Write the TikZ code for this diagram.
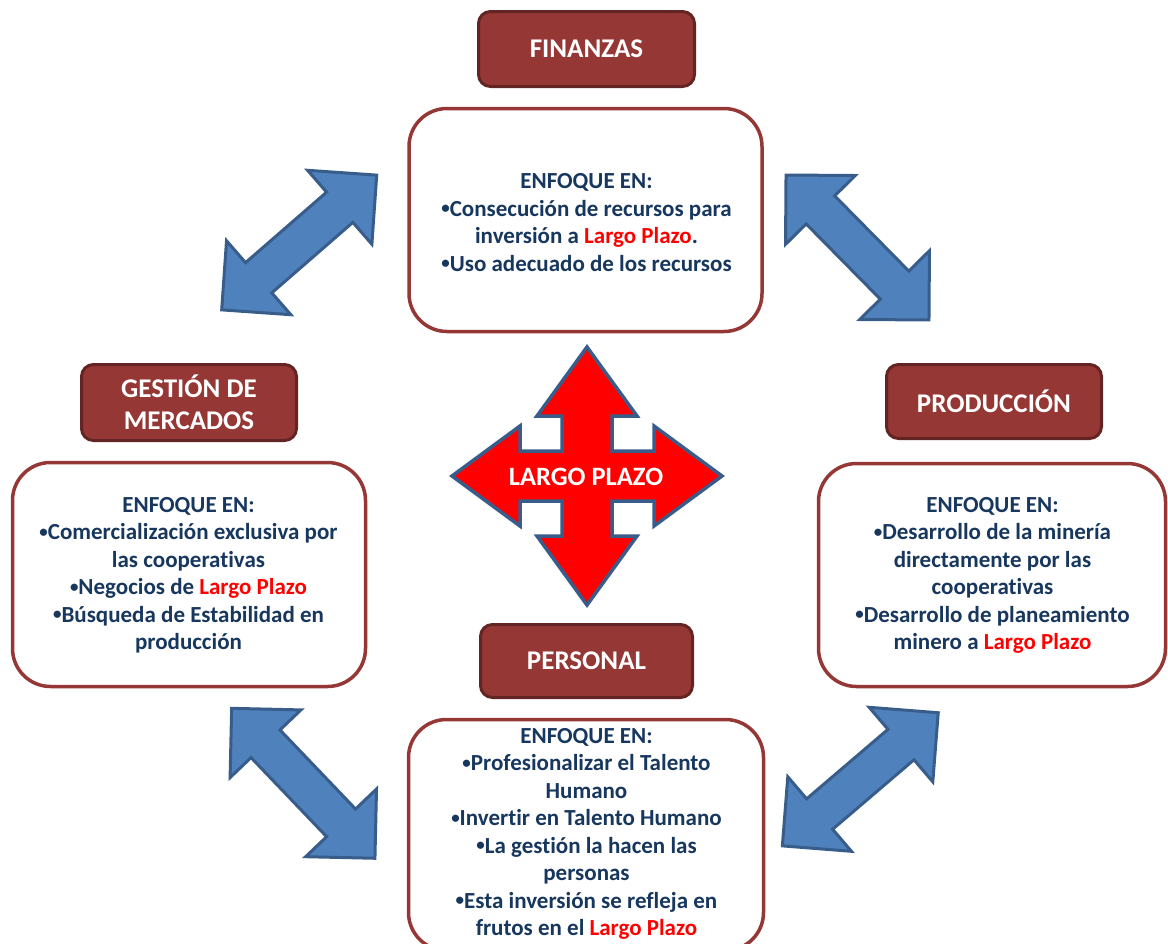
\documentclass[tikz,border=0pt]{standalone}
\usepackage{fontspec}
\setmainfont{Carlito}[Ligatures=NoCommon]
\definecolor{ttlfill}{HTML}{953735}
\definecolor{ttldraw}{HTML}{632523}
\definecolor{boxdraw}{HTML}{953735}
\definecolor{navy}{HTML}{17375E}
\definecolor{arrfill}{HTML}{4F81BD}
\definecolor{arrdraw}{HTML}{385D8A}
\definecolor{hot}{HTML}{FF0000}
\newcommand{\lp}[1]{\textcolor{hot}{#1}}
\newcommand{\bul}{\raisebox{2.5pt}{\fontsize{17}{17}\selectfont •}}
% two-headed block arrow: centre, rotation angle, half length
\newcommand{\twoheaded}[4]{%
  \begin{scope}[shift={(#1,#2)},rotate=#3]
    \draw[blockarrow] (#4,0) -- ({#4-49},-49) -- ({#4-49},-20) -- ({-#4+49},-20)
      -- ({-#4+49},-49) -- (-#4,0) -- ({-#4+49},49) -- ({-#4+49},20)
      -- ({#4-49},20) -- ({#4-49},49) -- cycle;
  \end{scope}}
\begin{document}
\begin{tikzpicture}[x=1pt,y=-1pt,
  ttl/.style={draw=ttldraw,fill=ttlfill,line width=3pt,rounded corners=12pt,
    text=white,align=center,inner sep=0pt,
    font=\bfseries\fontsize{27}{32}\selectfont},
  wbox/.style={draw=boxdraw,fill=white,line width=3.5pt,rounded corners=38pt,inner sep=0pt},
  txt/.style={text=navy,align=center,inner sep=0pt,
    font=\bfseries\fontsize{23}{27.5}\selectfont},
  blockarrow/.style={draw=arrdraw,fill=arrfill,line width=3pt,line join=miter},
  crossarrow/.style={draw=arrdraw,fill=hot,line width=3.5pt,line join=miter}]
\clip (0,0) rectangle (1168,943);

% title boxes
\node[ttl,minimum width=216,minimum height=75] (tfin) at (586.5,49) {FINANZAS};
\node[ttl,minimum width=215,minimum height=76] (tmer) at (189,402.5) {GESTIÓN DE\\MERCADOS};
\node[ttl,minimum width=215,minimum height=74] (tpro) at (994,401.5) {PRODUCCIÓN};
\node[ttl,minimum width=212,minimum height=73] (tper) at (586.5,661) {PERSONAL};

% content boxes
\node[wbox,minimum width=353,minimum height=223] (bfin) at (585.5,220) {};
\node[wbox,minimum width=353,minimum height=224] (bmer) at (189,574.5) {};
\node[wbox,minimum width=347,minimum height=223] (bpro) at (992,575) {};
\node[wbox,minimum width=355,minimum height=231] (bper) at (586,835) {};

\node[txt] (xfin) at (586.5,222.5) {ENFOQUE EN:\\
  \bul Consecución de recursos para\\
  inversión a \lp{Largo Plazo}.\\
  \bul Uso adecuado de los recursos};
\node[txt] (xmer) at (188.5,575.5) {ENFOQUE EN:\\
  \bul Comercialización exclusiva por\\
  las cooperativas\\
  \bul Negocios de \lp{Largo Plazo}\\
  \bul Búsqueda de Estabilidad en\\
  producción};
\node[txt] (xpro) at (992.5,575.5) {ENFOQUE EN:\\
  \bul Desarrollo de la minería\\
  directamente por las\\
  cooperativas\\
  \bul Desarrollo de planeamiento\\
  minero a \lp{Largo Plazo}};
\node[txt] (xper) at (586.5,834) {ENFOQUE EN:\\
  \bul Profesionalizar el Talento\\
  Humano\\
  \bul Invertir en Talento Humano\\
  \bul La gestión la hacen las\\
  personas\\
  \bul Esta inversión se refleja en\\
  frutos en el \lp{Largo Plazo}};

% two-headed arrows between the areas
\twoheaded{299.2}{242.5}{41}{102.7}
\twoheaded{857.5}{247.5}{-45.4}{101.8}
\twoheaded{303.3}{783.3}{-46.3}{103.7}
\twoheaded{860.3}{779.3}{40.5}{102.5}

% central four-way arrow
\begin{scope}[shift={(587,476)}]
  \draw[crossarrow] (0,-129) -- (50,-60) -- (25,-60) -- (25,-25) -- (67,-25)
    -- (67,-50) -- (135,0) -- (67,50) -- (67,25) -- (25,25) -- (25,60)
    -- (50,60) -- (0,129) -- (-50,60) -- (-25,60) -- (-25,25) -- (-67,25)
    -- (-67,50) -- (-135,0) -- (-67,-50) -- (-67,-25) -- (-25,-25)
    -- (-25,-60) -- (-50,-60) -- cycle;
\end{scope}
\node[text=white,inner sep=0pt,font=\bfseries\fontsize{26.5}{32}\selectfont] (lpz) at (586,477) {LARGO PLAZO};
\end{tikzpicture}
\end{document}
